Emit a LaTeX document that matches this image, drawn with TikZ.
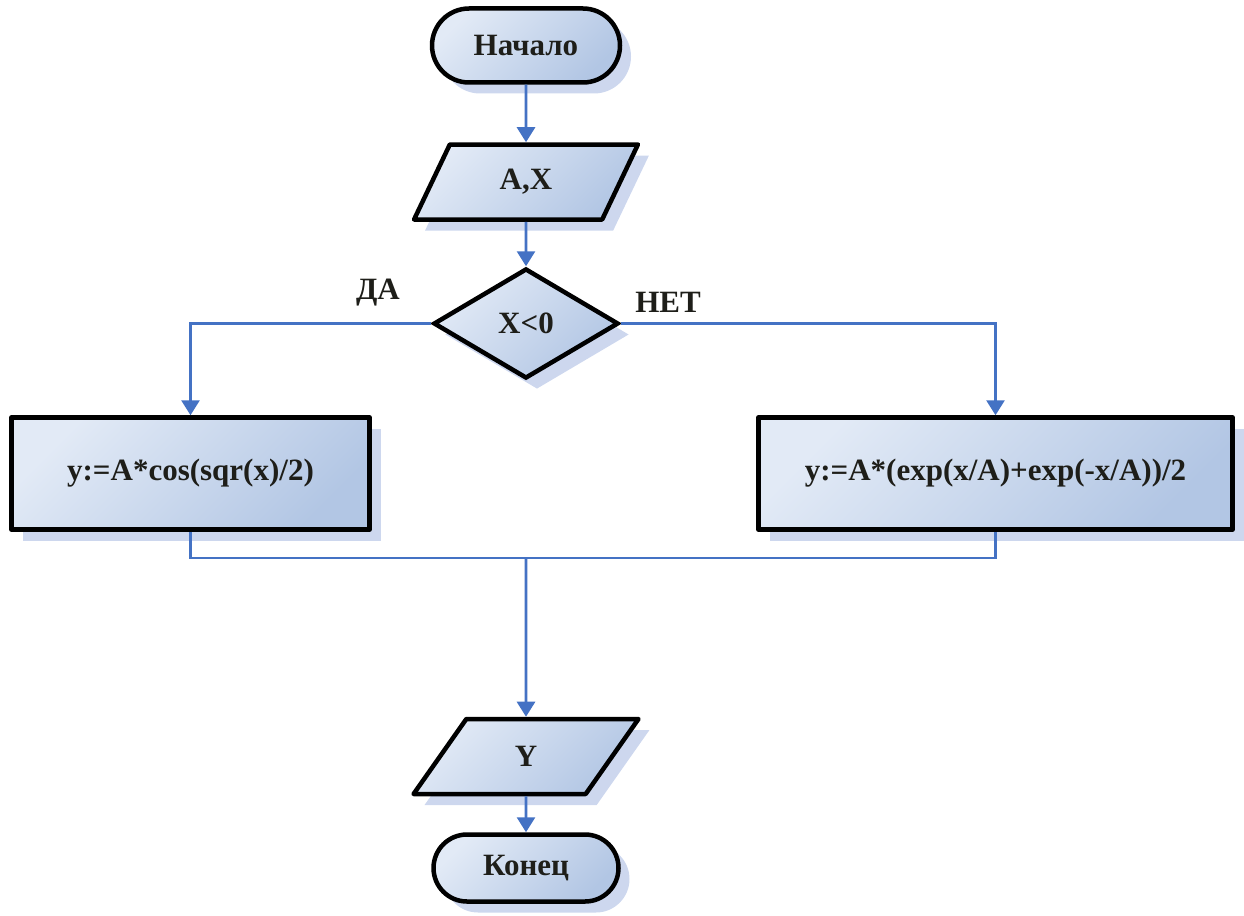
\documentclass[tikz,border=0pt]{standalone}
\usepackage{fontspec}
\setmainfont{Liberation Serif}
\usetikzlibrary{shapes.geometric,shadows,arrows.meta}
\definecolor{lightfill}{RGB}{226,234,246}
\definecolor{darkfill}{RGB}{178,198,228}
\definecolor{shadowc}{RGB}{205,215,238}
\definecolor{conncol}{RGB}{68,114,196}
\definecolor{txt}{RGB}{30,30,25}
\tikzset{
  base/.style={draw=black, line width=4.5pt, line join=round,
    top color=lightfill, bottom color=darkfill, shading angle=45,
    drop shadow={shadow xshift=11pt, shadow yshift=-11pt, fill=shadowc, opacity=1},
    font=\fontsize{31}{36}\selectfont\bfseries, text=txt, inner sep=0pt},
  term/.style={base, rectangle, rounded corners=37pt, minimum width=188pt, minimum height=74pt},
  io/.style={base, trapezium, trapezium left angle=64, trapezium right angle=116,
    trapezium stretches=true, minimum width=225pt, minimum height=75pt},
  dec/.style={base, diamond, line join=miter, minimum width=185pt, minimum height=110pt},
  proc/.style={base, rectangle, minimum height=112pt},
  line/.style={draw=conncol, line width=2.8pt},
  arr/.style={line, -{Triangle[length=15pt,width=18pt]}},
  lbl/.style={font=\fontsize{31}{36}\selectfont\bfseries, text=txt}
}
\begin{document}
\begin{tikzpicture}[x=1pt,y=-1pt]
\useasboundingbox (0,0) rectangle (1244,915);
\node[term] (start) at (526,45.5) {Начало};
\node[io] (ax) at (526,182) {A,X};
\node[dec] (cond) at (526,323.5) {X<0};
\node[proc, minimum width=358pt] (left) at (190.5,473.5) {y:=A*cos(sqr(x)/2)};
\node[proc, minimum width=474pt] (right) at (995.5,473.5) {y:=A*(exp(x/A)+exp(-x/A))/2};
\node[io] (out) at (526,756.5) {Y};
\node[term, minimum height=67pt, rounded corners=33.5pt, minimum width=185pt] (end) at (526,868) {Конец};
\node[lbl] (yes) at (378,293) {ДА};
\node[lbl] (no) at (668,302) {НЕТ};
\coordinate (join) at (526,558);
\draw[arr] (start.south) -- (ax.north);
\draw[arr] (ax.south) -- (cond.north);
\draw[arr] (cond.west) -| (left.north);
\draw[arr] (cond.east) -| (right.north);
\draw[line] (left.south) |- (join) -| (right.south);
\draw[arr] (join) -- (out.north);
\draw[arr] (out.south) -- (end.north);
\end{tikzpicture}
\end{document}
